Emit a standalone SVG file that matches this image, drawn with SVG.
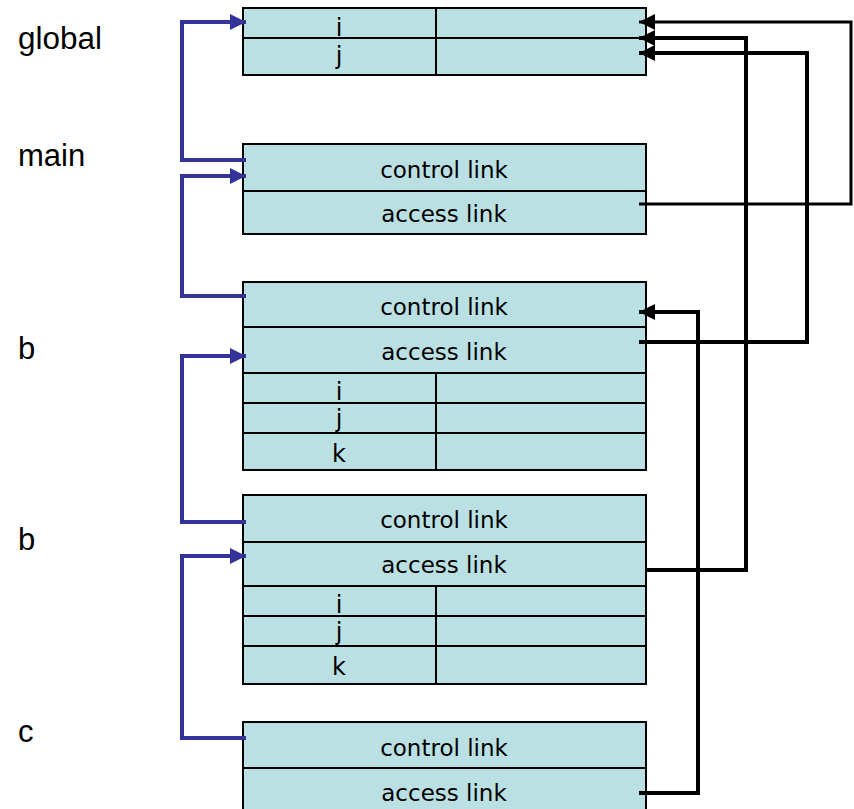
<svg xmlns="http://www.w3.org/2000/svg" width="854" height="809" viewBox="0 0 854 809">
<style>
.cell{fill:#BBE0E3;stroke:#000;stroke-width:2}
.ln{stroke:#000;stroke-width:2;fill:none}
.t{font-family:"DejaVu Sans",Verdana,sans-serif;font-size:23px;fill:#000;text-anchor:middle}
.v{font-size:24px}
.lab{font-family:"Liberation Sans",Arial,sans-serif;font-size:31px;fill:#000}
.blue{stroke:#333399;stroke-width:4;fill:none}
.blk{stroke:#000;stroke-width:4;fill:none}
</style>
<defs>
<marker id="ab" markerUnits="userSpaceOnUse" markerWidth="18" markerHeight="18" refX="16" refY="8" orient="auto"><path d="M0,0 L16,8 L0,16 Z" fill="#333399"/></marker>
<marker id="ak" markerUnits="userSpaceOnUse" markerWidth="18" markerHeight="18" refX="16" refY="8" orient="auto"><path d="M0,0 L16,8 L0,16 Z" fill="#000"/></marker>
</defs>
<g id="labels">
<text class="lab" x="18" y="49" textLength="84" lengthAdjust="spacingAndGlyphs">global</text>
<text class="lab" x="18" y="166">main</text>
<text class="lab" x="18" y="359">b</text>
<text class="lab" x="18" y="550">b</text>
<text class="lab" x="18" y="742">c</text>
</g>
<g id="frame-global">
<rect class="cell" x="243" y="8" width="403" height="67"/>
<line class="ln" x1="243" y1="38" x2="646" y2="38"/>
<line class="ln" x1="436" y1="8" x2="436" y2="75"/>
<text class="t v" x="339" y="36">i</text>
<text class="t v" x="339" y="64">j</text>
</g>
<g id="frame-main">
<rect class="cell" x="243" y="144" width="403" height="90"/>
<line class="ln" x1="243" y1="191" x2="646" y2="191"/>
<text class="t" x="444" y="178">control link</text>
<text class="t" x="444" y="222">access link</text>
</g>
<g id="frame-b1">
<rect class="cell" x="243" y="282" width="403" height="188"/>
<line class="ln" x1="243" y1="327" x2="646" y2="327"/>
<line class="ln" x1="243" y1="373" x2="646" y2="373"/>
<line class="ln" x1="243" y1="403" x2="646" y2="403"/>
<line class="ln" x1="243" y1="433" x2="646" y2="433"/>
<line class="ln" x1="436" y1="373" x2="436" y2="470"/>
<text class="t" x="444" y="315">control link</text>
<text class="t" x="444" y="360">access link</text>
<text class="t v" x="339" y="400">i</text>
<text class="t v" x="339" y="427">j</text>
<text class="t v" x="339" y="462">k</text>
</g>
<g id="frame-b2">
<rect class="cell" x="243" y="495" width="403" height="189"/>
<line class="ln" x1="243" y1="542" x2="646" y2="542"/>
<line class="ln" x1="243" y1="586" x2="646" y2="586"/>
<line class="ln" x1="243" y1="616" x2="646" y2="616"/>
<line class="ln" x1="243" y1="646" x2="646" y2="646"/>
<line class="ln" x1="436" y1="586" x2="436" y2="684"/>
<text class="t" x="444" y="528">control link</text>
<text class="t" x="444" y="573">access link</text>
<text class="t v" x="339" y="613">i</text>
<text class="t v" x="339" y="640">j</text>
<text class="t v" x="339" y="675">k</text>
</g>
<g id="frame-c">
<rect class="cell" x="243" y="722" width="403" height="100"/>
<line class="ln" x1="243" y1="768" x2="646" y2="768"/>
<text class="t" x="444" y="756">control link</text>
<text class="t" x="444" y="801">access link</text>
</g>
<g id="connectors">
<polyline class="blue" points="246,160 182,160 182,22 246,22" marker-end="url(#ab)"/>
<polyline class="blue" points="246,296 182,296 182,176 246,176" marker-end="url(#ab)"/>
<polyline class="blue" points="246,522 182,522 182,356 246,356" marker-end="url(#ab)"/>
<polyline class="blue" points="246,738 182,738 182,556 246,556" marker-end="url(#ab)"/>
<polyline class="blk" style="stroke-width:3" points="639,204 851,204 851,22 639,22" marker-end="url(#ak)"/>
<polyline class="blk" points="639,342 807,342 807,53 639,53" marker-end="url(#ak)"/>
<polyline class="blk" points="646,570 746,570 746,38 639,38" marker-end="url(#ak)"/>
<polyline class="blk" points="639,793 698,793 698,312 639,312" marker-end="url(#ak)"/>
</g>
</svg>
